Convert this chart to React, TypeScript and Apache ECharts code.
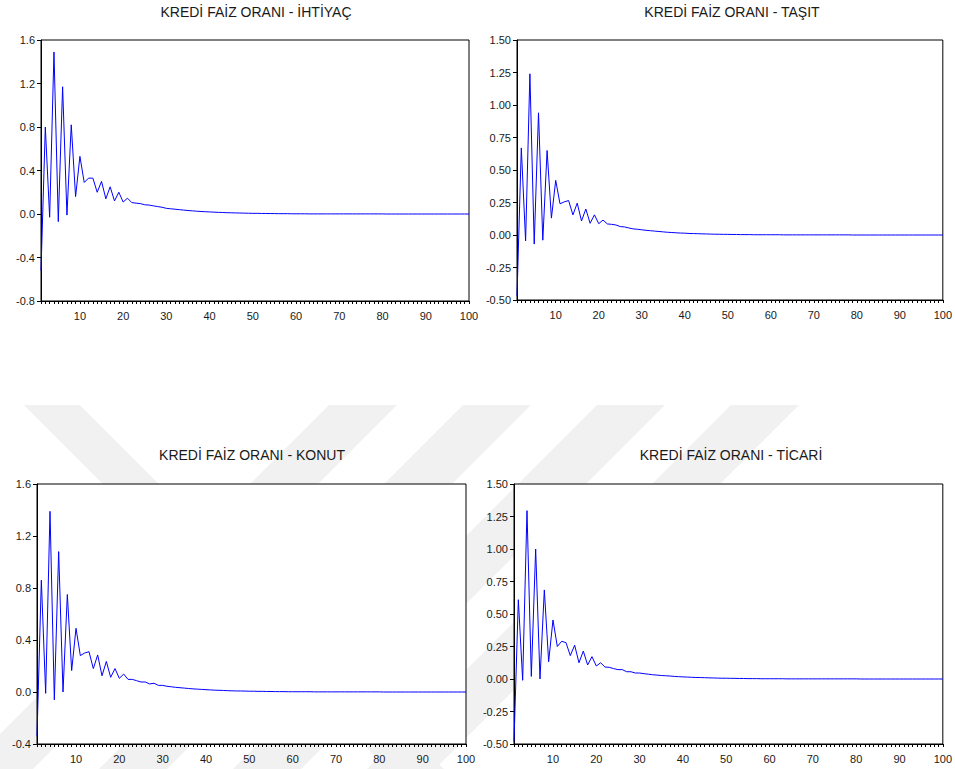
import React, { useEffect, useRef } from "react";
import * as echarts from "echarts";

const periods: number[] = Array.from({ length: 100 }, (_, i) => i + 1);
const xLabelValues = [10, 20, 30, 40, 50, 60, 70, 80, 90, 100];

const titles = [
  "KREDİ FAİZ ORANI - İHTİYAÇ",
  "KREDİ FAİZ ORANI - TAŞIT",
  "KREDİ FAİZ ORANI - KONUT",
  "KREDİ FAİZ ORANI - TİCARİ",
];

const ihtiyac = [
  -0.52, 0.80, -0.03, 1.49, -0.07, 1.17, -0.01, 0.82, 0.16, 0.53,
  0.29, 0.33, 0.33, 0.20, 0.30, 0.14, 0.25, 0.12, 0.20, 0.11,
  0.145, 0.105, 0.10, 0.095, 0.085, 0.082, 0.075, 0.068, 0.062, 0.052,
  0.048, 0.044, 0.040, 0.036, 0.032, 0.029, 0.026, 0.023, 0.021, 0.019,
  0.017, 0.015, 0.014, 0.012, 0.011, 0.010, 0.009, 0.008, 0.007, 0.006,
  0.006, 0.005, 0.005, 0.004, 0.004, 0.003, 0.003, 0.003, 0.002, 0.002,
  0.002, 0.002, 0.001, 0.001, 0.001, 0.001, 0.001, 0.001, 0.001, 0.001,
  0.001, 0.001, 0.001, 0.001, 0.001, 0.001, 0.001, 0.001, 0.001, 0.001,
  0, 0, 0, 0, 0, 0, 0, 0, 0, 0,
  0, 0, 0, 0, 0, 0, 0, 0, 0, 0,
];

const tasit = [
  -0.47, 0.67, -0.046, 1.24, -0.07, 0.94, -0.04, 0.65, 0.13, 0.42,
  0.24, 0.255, 0.265, 0.155, 0.245, 0.108, 0.20, 0.09, 0.155, 0.087,
  0.115, 0.085, 0.082, 0.077, 0.065, 0.062, 0.054, 0.047, 0.044, 0.040,
  0.036, 0.033, 0.030, 0.027, 0.024, 0.021, 0.019, 0.017, 0.015, 0.014,
  0.012, 0.011, 0.010, 0.009, 0.008, 0.007, 0.006, 0.006, 0.005, 0.005,
  0.004, 0.004, 0.003, 0.003, 0.003, 0.002, 0.002, 0.002, 0.002, 0.002,
  0.002, 0.002, 0.001, 0.001, 0.001, 0.001, 0.001, 0.001, 0.001, 0.001,
  0.001, 0.001, 0.001, 0.001, 0.001, 0.001, 0.001, 0.001, 0, 0,
  0, 0, 0, 0, 0, 0, 0, 0, 0, 0,
  0, 0, 0, 0, 0, 0, 0, 0, 0, 0,
];

const konut = [
  -0.34, 0.86, -0.01, 1.39, -0.06, 1.08, 0.0, 0.75, 0.165, 0.49,
  0.28, 0.30, 0.31, 0.18, 0.285, 0.125, 0.235, 0.113, 0.18, 0.105,
  0.138, 0.097, 0.097, 0.087, 0.077, 0.077, 0.062, 0.067, 0.051, 0.051,
  0.044, 0.040, 0.036, 0.033, 0.030, 0.027, 0.024, 0.022, 0.020, 0.018,
  0.016, 0.014, 0.013, 0.012, 0.010, 0.009, 0.008, 0.008, 0.007, 0.006,
  0.006, 0.005, 0.005, 0.004, 0.004, 0.003, 0.003, 0.003, 0.002, 0.002,
  0.002, 0.002, 0.002, 0.002, 0.001, 0.001, 0.001, 0.001, 0.001, 0.001,
  0.001, 0.001, 0.001, 0.001, 0.001, 0.001, 0.001, 0.001, 0.001, 0.001,
  0, 0, 0, 0, 0, 0, 0, 0, 0, 0,
  0, 0, 0, 0, 0, 0, 0, 0, 0, 0,
];

const ticari = [
  -0.48, 0.61, -0.01, 1.295, 0.02, 1.0, 0.0, 0.685, 0.133, 0.454,
  0.25, 0.29, 0.28, 0.18, 0.26, 0.125, 0.215, 0.108, 0.172, 0.10,
  0.125, 0.092, 0.09, 0.08, 0.072, 0.072, 0.056, 0.056, 0.046, 0.046,
  0.041, 0.037, 0.033, 0.030, 0.027, 0.025, 0.023, 0.020, 0.018, 0.016,
  0.015, 0.013, 0.012, 0.011, 0.010, 0.009, 0.008, 0.007, 0.006, 0.006,
  0.005, 0.005, 0.004, 0.004, 0.003, 0.003, 0.003, 0.002, 0.002, 0.002,
  0.002, 0.002, 0.002, 0.001, 0.001, 0.001, 0.001, 0.001, 0.001, 0.001,
  0.001, 0.001, 0.001, 0.001, 0.001, 0.001, 0.001, 0.001, 0.001, 0.001,
  0, 0, 0, 0, 0, 0, 0, 0, 0, 0,
  0, 0, 0, 0, 0, 0, 0, 0, 0, 0,
];

const seriesValues = [ihtiyac, tasit, konut, ticari];

const yMins = [-0.8, -0.5, -0.4, -0.5];
const yMaxs = [1.6, 1.5, 1.6, 1.5];
const yIntervals = [0.4, 0.25, 0.4, 0.25];
const yDecimals = [1, 2, 1, 2];

const grids = [
  { left: 41, top: 40, width: 428, height: 261 },
  { left: 517, top: 40, width: 426, height: 260 },
  { left: 37, top: 484, width: 429, height: 260 },
  { left: 514, top: 484, width: 429, height: 260 },
];

const titlePos = [
  { x: 256, y: 5 },
  { x: 732, y: 5 },
  { x: 252, y: 448 },
  { x: 731, y: 448 },
];

const FONT = "'Liberation Sans', Arial, sans-serif";
const WM = "#f1f1f1";

export default function App() {
  const ref = useRef<HTMLDivElement>(null);

  useEffect(() => {
    if (!ref.current) return;
    const chart = echarts.init(ref.current, null, { renderer: "svg" });

    const wmStripes = [329, 463, 597, 731];
    const graphics: any[] = wmStripes.map((a) => ({
      type: "polygon",
      z: -10,
      silent: true,
      shape: {
        points: [
          [a, 405],
          [a + 68, 405],
          [a + 68 - 364, 769],
          [a - 364, 769],
        ],
      },
      style: { fill: WM },
    }));
    graphics.push({
      type: "polygon",
      z: -10,
      silent: true,
      shape: {
        points: [
          [24, 405],
          [80, 405],
          [444, 769],
          [388, 769],
        ],
      },
      style: { fill: WM },
    });

    const option: any = {
      animation: false,
      backgroundColor: "#ffffff",
      graphic: graphics,
      title: titles.map((t, i) => ({
        text: t,
        left: titlePos[i].x,
        top: titlePos[i].y,
        textAlign: "center",
        padding: 0,
        textStyle: {
          fontFamily: FONT,
          fontSize: 14,
          fontWeight: "normal",
          color: "#1a1a1a",
        },
      })),
      grid: grids.map((g) => ({
        ...g,
        show: true,
        backgroundColor: "#ffffff",
        borderColor: "#000000",
        borderWidth: 1,
        containLabel: false,
      })),
      xAxis: grids.map((_, i) => ({
        type: "value",
        gridIndex: i,
        min: 1,
        max: 100,
        axisLine: { show: true, onZero: false, lineStyle: { color: "#000", width: 1 } },
        axisTick: {
          show: true,
          customValues: periods,
          length: 3,
          lineStyle: { color: "#000" },
        },
        axisLabel: {
          customValues: xLabelValues,
          margin: 9,
          fontFamily: FONT,
          fontSize: 11,
          color: "#1a1a1a",
        },
        splitLine: { show: false },
      })),
      yAxis: grids.map((_, i) => ({
        type: "value",
        gridIndex: i,
        min: yMins[i],
        max: yMaxs[i],
        interval: yIntervals[i],
        axisLine: { show: true, lineStyle: { color: "#000", width: 1 } },
        axisTick: { show: true, length: 4, lineStyle: { color: "#000" } },
        axisLabel: {
          margin: 6,
          fontFamily: FONT,
          fontSize: 11,
          color: "#1a1a1a",
          formatter: (v: number) => v.toFixed(yDecimals[i]),
        },
        splitLine: { show: false },
      })),
      series: seriesValues.map((vals, i) => ({
        type: "line",
        xAxisIndex: i,
        yAxisIndex: i,
        data: periods.map((p, k) => [p, vals[k]]),
        showSymbol: false,
        symbol: "none",
        lineStyle: { color: "#0000ff", width: 1 },
        itemStyle: { color: "#0000ff" },
      })),
    };

    chart.setOption(option);
    return () => chart.dispose();
  }, []);

  return (
    <div
      ref={ref}
      style={{ position: "absolute", left: 0, top: 0, width: 955, height: 769 }}
    />
  );
}
